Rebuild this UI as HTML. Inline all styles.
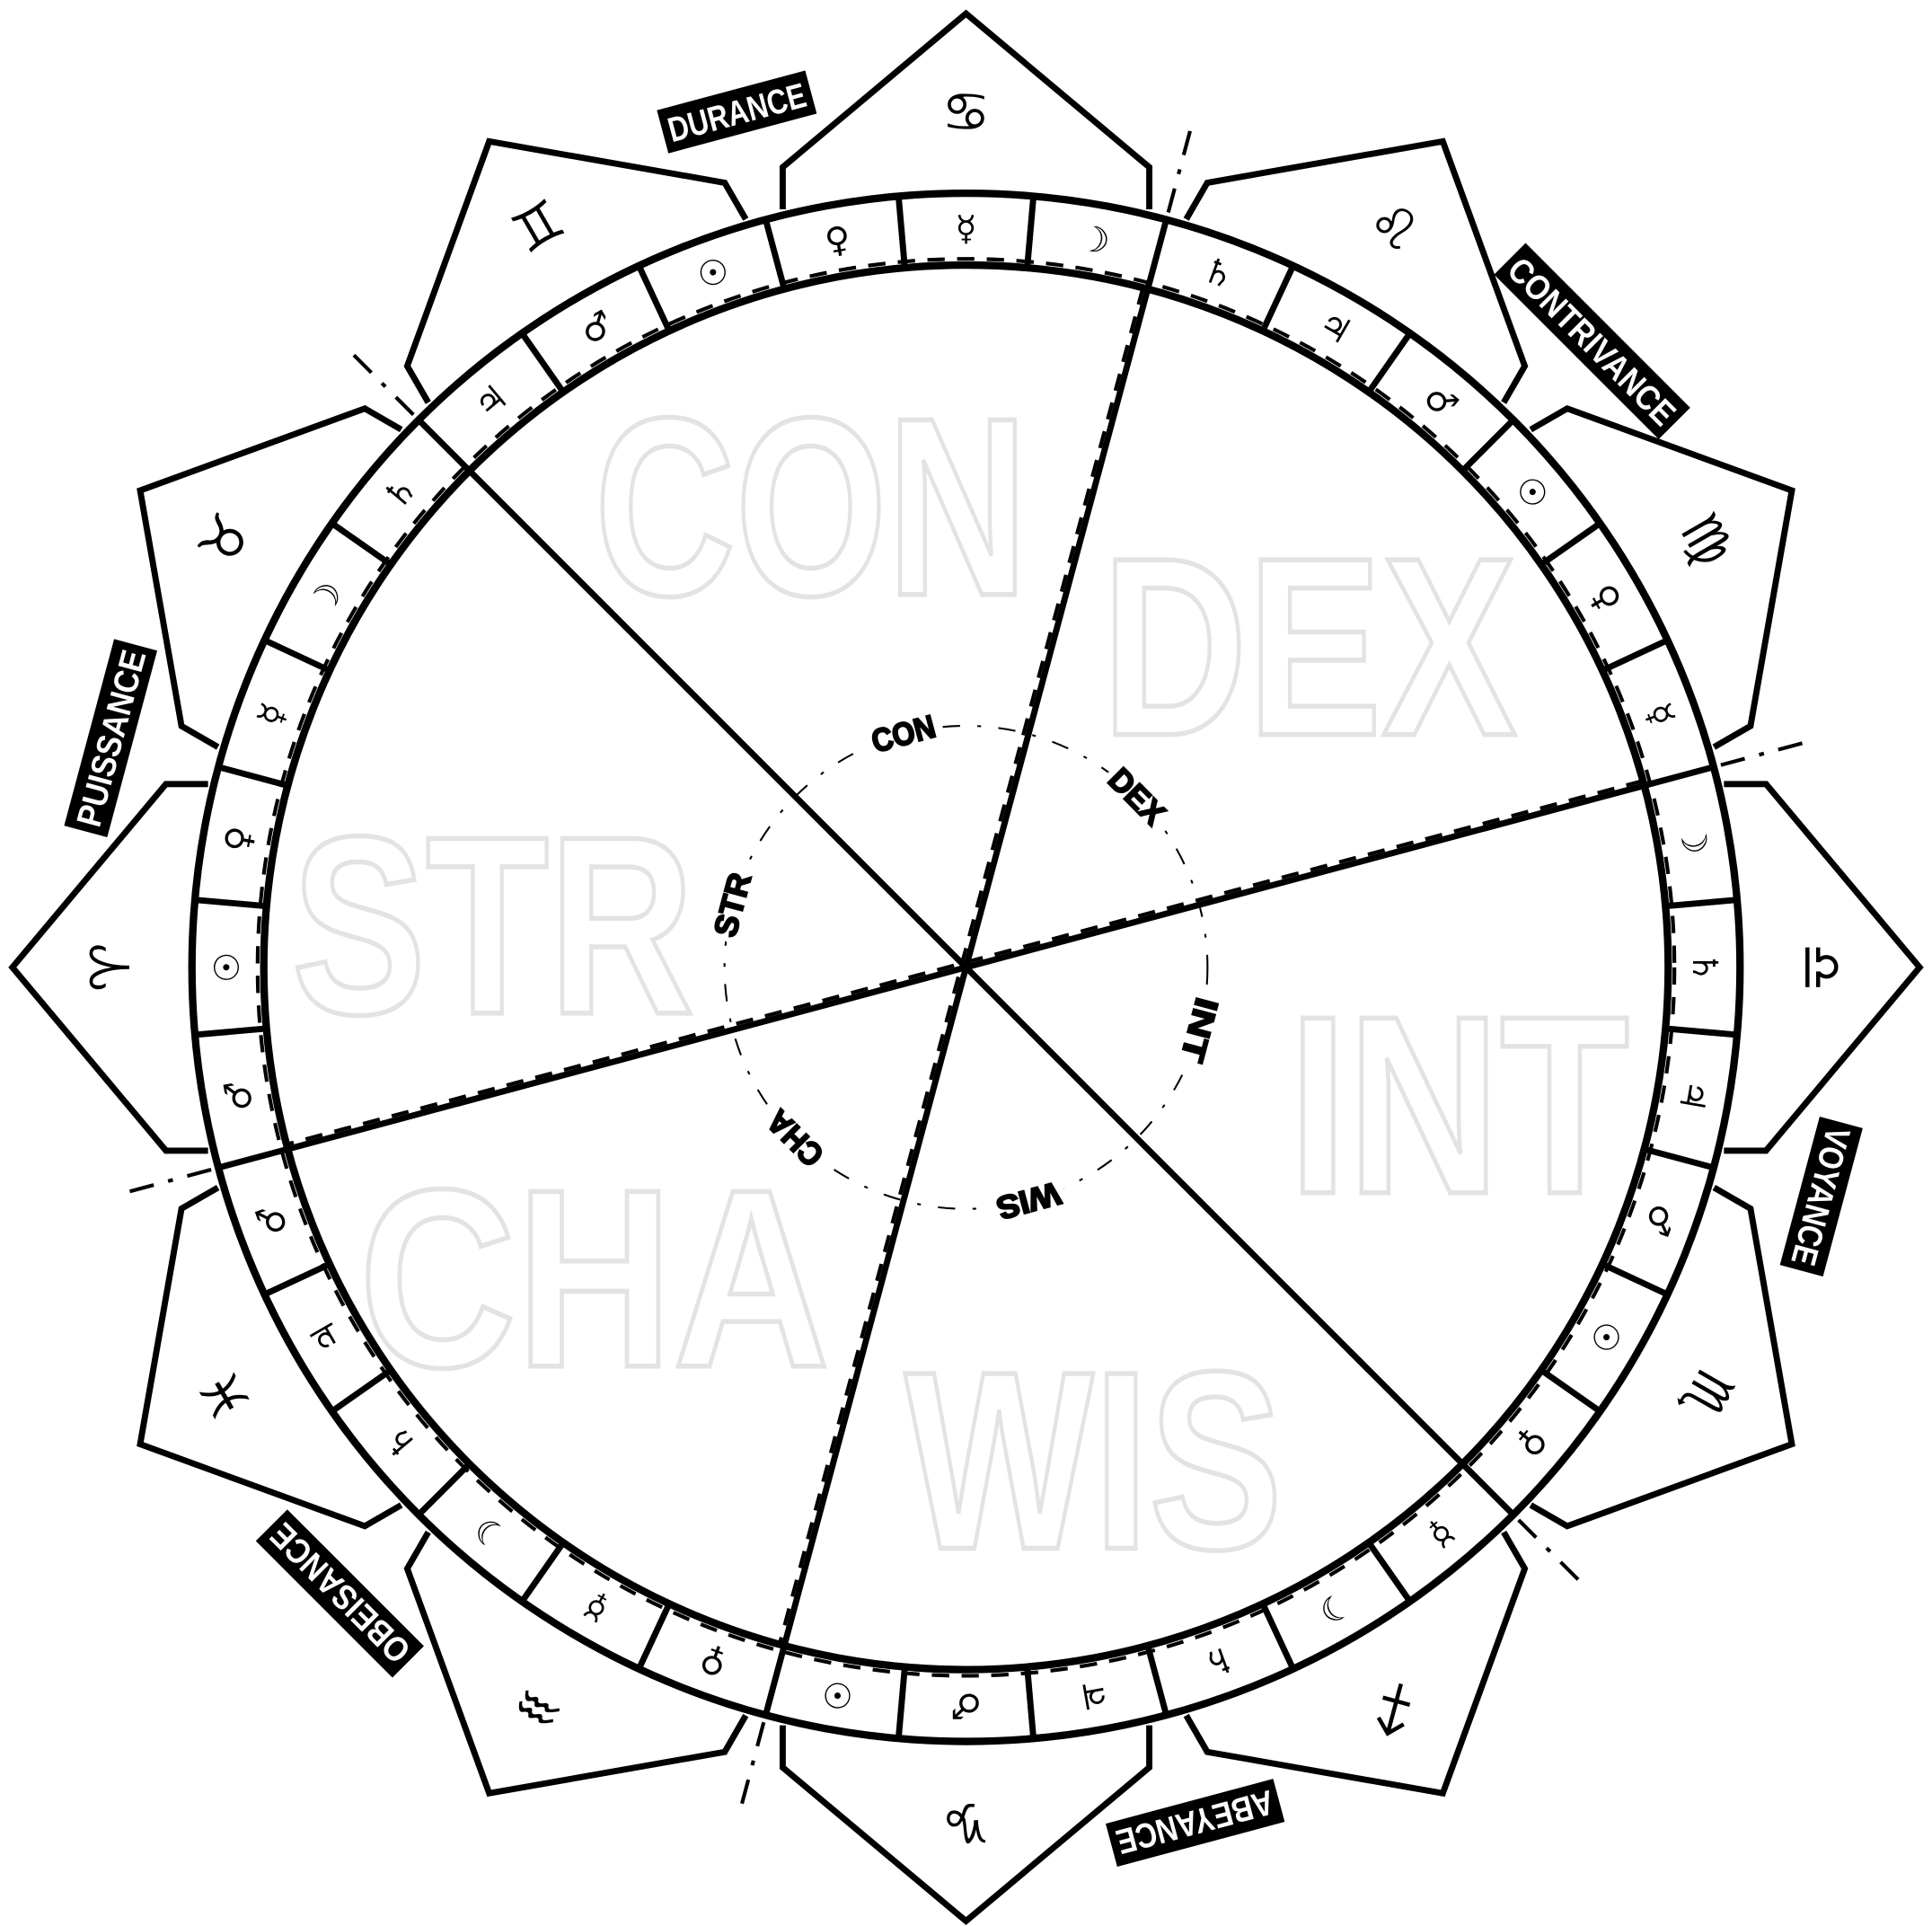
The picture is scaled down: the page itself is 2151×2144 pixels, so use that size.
<!DOCTYPE html>
<html><head><meta charset="utf-8">
<style>
html,body{margin:0;padding:0;background:#fff;}
svg{display:block;}
.lbl{font-family:"Liberation Sans","DejaVu Sans",sans-serif;font-weight:bold;}
.sym{font-family:"DejaVu Sans",sans-serif;}
</style></head>
<body>
<svg id="chart" width="2151" height="2144" viewBox="0 0 1560 1555" preserveAspectRatio="none" xmlns="http://www.w3.org/2000/svg">
<g id="houses"></g>
<g id="ring"></g>
<g id="bg-words"></g>
<g id="spokes"></g>
<g id="inner"></g>
<g id="outer"></g>
</svg>
<script>
// data
const signs = ["♈","♉","♊","♋","♌","♍","♎","♏","♐","♑","♒","♓"];
const signAngles = [180,210,240,270,300,330,0,30,60,90,120,150];
const decanRulers = ["♂","☉","♀","☿","☽","♄","♃","♂","☉","♀","☿","☽","♄","♃","♂","☉","♀","☿","☽","♄","♃","♂","☉","♀","☿","☽","♄","♃","♂","☉","♀","☿","☽","♄","♃","♂"];
const abilities = ["CON","DEX","INT","WIS","CHA","STR"];
const abilityAngles = [-105,-45,15,75,135,195];
const outerNames = ["DURANCE","CONTRIVANCE","VOYANCE","ABEYANCE","OBEISANCE","PUISSANCE"];
const dividerAngles = [-135,-75,-15];

const NS="http://www.w3.org/2000/svg";
const CX=780, CY=781, R_OUT=625, R_IN=567;
const rad=a=>a*Math.PI/180;
const pt=(a,r)=>[CX+r*Math.cos(rad(a)),CY+r*Math.sin(rad(a))];
const loc=(a,v,u)=>[CX+u*Math.cos(rad(a))-v*Math.sin(rad(a)),CY+u*Math.sin(rad(a))+v*Math.cos(rad(a))];
function mk(tag,attrs,parent){const e=document.createElementNS(NS,tag);for(const k in attrs)e.setAttribute(k,attrs[k]);parent.appendChild(e);return e;}

// houses
const houses=document.getElementById('houses');
signs.forEach((s,i)=>{
  const a=signAngles[i];
  const pts=[[-148,612],[-148,646],[0,770],[148,646],[148,612]].map(p=>loc(a,p[0],p[1]).join(',')).join(' ');
  const p=mk('polyline',{points:pts,fill:'#fff',stroke:'#000','stroke-width':5,'stroke-linejoin':'miter'},houses);
  
  
  const c=pt(a,690);
  const t=mk('text',{x:c[0],y:c[1],'text-anchor':'middle','dominant-baseline':'central','font-size':44,'class':'sym',transform:`rotate(${a+90} ${c[0]} ${c[1]})`},houses);
  t.textContent=s+"\uFE0E";
  
  
});

// ring
const ring=document.getElementById('ring');
let c1=mk('circle',{cx:CX,cy:CY,r:R_OUT,fill:'#fff',stroke:'#000','stroke-width':6},ring);

let c2=mk('circle',{cx:CX,cy:CY,r:R_IN,fill:'#fff',stroke:'#000','stroke-width':6},ring);

let c3=mk('circle',{cx:CX,cy:CY,r:R_IN+5,fill:'none',stroke:'#000','stroke-width':3,'stroke-dasharray':'14 10'},ring);

decanRulers.forEach((g,i)=>{
  const a=170+i*10;
  const b1=pt(a-5,R_IN),b2=pt(a-5,R_OUT);
  const l=mk('line',{x1:b1[0],y1:b1[1],x2:b2[0],y2:b2[1],stroke:'#000','stroke-width':5},ring);
  
  const c=pt(a,596);
  const t=mk('text',{x:c[0],y:c[1],'text-anchor':'middle','dominant-baseline':'central','font-size':28,'class':'sym',transform:`rotate(${a+90} ${c[0]} ${c[1]})`},ring);
  t.textContent=g+"\uFE0E";
  
  
});

// background words
const bgPos=[[655,480],[1057,593],[1178,963],[883,1250],[480,1103],[398,818]];
const bgW=[350,335,275,305,380,325];
const bg=document.getElementById('bg-words');
abilities.forEach((w,i)=>{
  const t=mk('text',{x:bgPos[i][0],y:bgPos[i][1],'text-anchor':'middle','font-size':205,fill:'none',stroke:'#e3e3e3','stroke-width':4,'class':'lbl','textLength':bgW[i],'lengthAdjust':'spacingAndGlyphs'},bg);
  t.textContent=w;
  
  
});

// spokes
const sp=document.getElementById('spokes');
dividerAngles.forEach((a,i)=>{
  const p1=pt(a,R_IN),p2=pt(a+180,R_IN);
  const l=mk('line',{x1:p1[0],y1:p1[1],x2:p2[0],y2:p2[1],stroke:'#000','stroke-width':5},sp);
  
  if(i>0){
    const q1=loc(a,-4,R_IN),q2=loc(a+180,4,R_IN);
    const d=mk('line',{x1:q1[0],y1:q1[1],x2:q2[0],y2:q2[1],stroke:'#000','stroke-width':3,'stroke-dasharray':'14 10'},sp);
    
  }
  [a,a+180].forEach(b=>{
    const e1=pt(b,R_OUT-10),e2=pt(b,R_OUT+75);
    const t=mk('line',{x1:e1[0],y1:e1[1],x2:e2[0],y2:e2[1],stroke:'#000','stroke-width':3,'stroke-dasharray':'4 12 20 12'},sp);
    
  });
});

// inner labels
const inner=document.getElementById('inner');
let ic=mk('circle',{cx:CX,cy:CY,r:195,fill:'none',stroke:'#000','stroke-width':1.5,'stroke-dasharray':'14 14 3 14'},inner);

abilities.forEach((w,i)=>{
  const a=abilityAngles[i];const c=pt(a,195);
  const bgr=mk('rect',{x:c[0]-30,y:c[1]-14,width:60,height:28,fill:'#fff',transform:`rotate(${a+90} ${c[0]} ${c[1]})`},inner);
  
  const t=mk('text',{x:c[0],y:c[1],'text-anchor':'middle','dominant-baseline':'central','font-size':26,'class':'lbl',stroke:'#000','stroke-width':1.5,'textLength':52,'lengthAdjust':'spacingAndGlyphs',transform:`rotate(${a+90} ${c[0]} ${c[1]})`},inner);
  t.textContent=w;
  
  
});

// outer labels
const outer=document.getElementById('outer');
outerNames.forEach((w,i)=>{
  const a=abilityAngles[i];const c=pt(a,715);
  const wd=w.length*16+12;
  const g=mk('g',{transform:`rotate(${a+90} ${c[0]} ${c[1]})`},outer);
  
  
  mk('rect',{x:c[0]-wd/2,y:c[1]-18,width:wd,height:36,fill:'#000'},g);
  const t=mk('text',{x:c[0],y:c[1]+1,'text-anchor':'middle','dominant-baseline':'central','font-size':28,fill:'#fff','class':'lbl','textLength':wd-10,'lengthAdjust':'spacingAndGlyphs'},g);
  t.textContent=w;
});
</script>
</body></html>
